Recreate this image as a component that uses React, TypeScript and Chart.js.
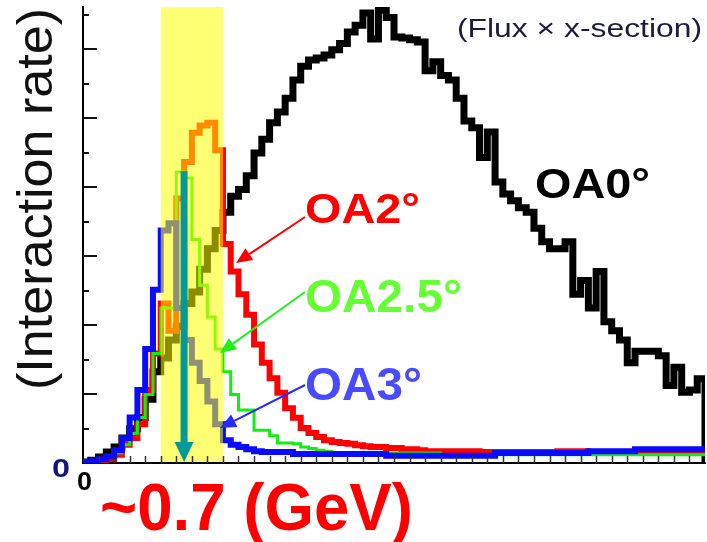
import React, { useEffect, useRef } from "react";
import { Chart, registerables } from "chart.js";

Chart.register(...registerables);

// ---------- data ----------
// Neutrino energy axis (GeV): histogram bins of 0.05 GeV from 0 to 4 GeV
const E_MAX = 4.0;
const BIN_WIDTH = 0.05;
const X_TICK_STEP = 0.1;
// Interaction rate (arbitrary units, peak of OA0 = 100)
const Y_MAX = 100;
const Y_TICK_STEP = 7.565;

const OA0 = [
  0.2, 0.6, 1.3, 2.4, 3.5, 5.5, 7.5, 10, 14, 20,
  23, 27, 30, 35, 37.5, 42.5, 47, 51, 55, 58.5,
  60, 63, 68, 71, 74.6, 77, 80, 84, 87, 88.4,
  88.8, 89.5, 90.6, 92, 94.5, 96, 98.7, 93, 99.3, 97.7,
  93.4, 93.2, 92.8, 92.3, 86, 88, 85, 84, 80, 75,
  73.5, 67, 72.6, 61.6, 59, 57.5, 56, 55, 51.5, 48.5,
  47, 47, 48.5, 37, 40, 34, 42, 31, 29, 27,
  22, 24.5, 24.5, 24.5, 23.5, 17, 21, 15.5, 16, 18.5,
];

const OA2 = [
  0.2, 0.2, 0.4, 0.9, 1.8, 4, 5.5, 8.5, 16, 24,
  35, 29, 58, 66, 72.4, 74, 74.6, 68.6, 48, 42,
  37, 32.5, 26, 22, 18.6, 15.4, 12, 9.9, 7.7, 6.6,
  5.7, 5, 4.6, 4.4, 4.2, 3.9, 3.7, 3.5, 3.5, 3.3,
  3.3, 3, 3, 2.8, 2.6, 2.6, 2.6, 2.6, 2.6, 2.6,
  2.6, 2.4, 2.4, 2.4, 2.4, 2.4, 2.4, 2.4, 2.4, 2.4,
  2.4, 2.6, 2.6, 2.6, 2.6, 2.4, 2.4, 2.4, 2.4, 2.4,
  2.4, 2.4, 2.4, 2.4, 2.4, 2.4, 2.4, 2.4, 2.4, 2.4,
];

const OA25 = [
  0.2, 0.3, 0.6, 1.2, 2.2, 4, 6.5, 10, 15, 24,
  34, 34, 63.8, 62.5, 49, 39, 32, 25, 20, 15,
  11.6, 11.6, 7.2, 7.2, 6, 4.4, 4.4, 4.2, 3.5, 3.2,
  2.8, 2.5, 2.2, 2.2, 2.2, 2.2, 2.2, 2.2, 2.2, 2.2,
  2.2, 2.2, 2.2, 2.2, 2.2, 2.2, 1.8, 1.8, 1.8, 1.8,
  1.8, 1.8, 1.8, 1.8, 1.8, 1.8, 1.8, 1.8, 1.8, 1.8,
  1.8, 1.8, 1.8, 1.8, 1.8, 1.8, 1.8, 1.8, 1.8, 1.8,
  1.8, 1.8, 1.8, 1.8, 1.8, 1.8, 1.8, 1.8, 1.8, 1.8,
];

const OA3 = [
  0.2, 0.4, 0.8, 1.5, 2.8, 5.5, 10, 16, 25, 38,
  51, 52.6, 34, 27, 22, 18, 13.5, 8.5, 5, 4,
  3.5, 3, 2.6, 2.4, 2.4, 2.4, 2.4, 2, 2, 2,
  2, 2, 2, 2, 2, 2, 2, 2, 2, 1.6,
  1.6, 1.6, 1.6, 1.6, 1.6, 1.6, 1.6, 1.6, 1.6, 1.6,
  1.6, 1.6, 1.6, 2.2, 2.2, 2.2, 2.2, 2.2, 2.2, 2.2,
  2.2, 2.2, 2.2, 2.2, 2.2, 2.6, 2.6, 2.6, 2.6, 2.6,
  2.6, 3, 3, 3, 3, 3, 3, 3, 3, 3,
];

// highlighted energy window and the peak marker (GeV)
const BAND = [0.5, 0.9];
const PEAK_E = 0.65;
const PEAK_ARROW_TOP = 64;

const SERIES_LABELS = ["OA0°", "OA2°", "OA2.5°", "OA3°"];
const Y_TITLE = "(Interaction rate)";
const SUBTITLE = "(Flux × x-section)";
const ENERGY_NOTE = "~0.7 (GeV)";

// ---------- helpers ----------
function histPoints(vals: number[], dropToZero: boolean) {
  const pts = vals.map((v, i) => ({ x: +(i * BIN_WIDTH).toFixed(3), y: v }));
  pts.push({ x: E_MAX, y: vals[vals.length - 1] });
  if (dropToZero) pts.push({ x: E_MAX, y: 0 });
  return pts;
}

const FONT = '"Liberation Sans", Arial, Helvetica, sans-serif';

function fitText(
  ctx: CanvasRenderingContext2D,
  s: string,
  x: number,
  y: number,
  font: string,
  color: string,
  width: number
) {
  ctx.save();
  ctx.font = font;
  ctx.fillStyle = color;
  ctx.textBaseline = "alphabetic";
  ctx.textAlign = "left";
  const w = ctx.measureText(s).width;
  ctx.translate(x, y);
  ctx.scale(width / w, 1);
  ctx.fillText(s, 0, 0);
  ctx.restore();
}

function arrow(
  ctx: CanvasRenderingContext2D,
  x0: number,
  y0: number,
  x1: number,
  y1: number,
  color: string,
  lw: number,
  headLen: number,
  headHalf: number
) {
  const ang = Math.atan2(y1 - y0, x1 - x0);
  const bx = x1 - headLen * Math.cos(ang);
  const by = y1 - headLen * Math.sin(ang);
  ctx.save();
  ctx.strokeStyle = color;
  ctx.fillStyle = color;
  ctx.lineWidth = lw;
  ctx.beginPath();
  ctx.moveTo(x0, y0);
  ctx.lineTo(bx, by);
  ctx.stroke();
  ctx.beginPath();
  ctx.moveTo(x1, y1);
  ctx.lineTo(bx + headHalf * Math.sin(ang), by - headHalf * Math.cos(ang));
  ctx.lineTo(bx - headHalf * Math.sin(ang), by + headHalf * Math.cos(ang));
  ctx.closePath();
  ctx.fill();
  ctx.restore();
}

const overlayPlugin = {
  id: "overlay",
  afterDatasetsDraw(chart: any) {
    const { ctx, chartArea: ca } = chart;
    const xs = chart.scales.x;
    const ys = chart.scales.y;
    ctx.save();
    // yellow window
    const bx0 = xs.getPixelForValue(BAND[0]);
    const bx1 = xs.getPixelForValue(BAND[1]);
    ctx.fillStyle = "rgba(255,255,0,0.55)";
    ctx.fillRect(bx0, ca.top, bx1 - bx0, ca.bottom - ca.top - 1);

    // inward tick marks on x axis
    ctx.strokeStyle = "#333";
    ctx.lineWidth = 1.5;
    for (let v = X_TICK_STEP; v < E_MAX - 1e-6; v += X_TICK_STEP) {
      const px = Math.round(xs.getPixelForValue(v)) + 0.5;
      ctx.beginPath();
      ctx.moveTo(px, ca.bottom);
      ctx.lineTo(px, ca.bottom - 7);
      ctx.stroke();
    }
    // inward tick marks on y axis
    ctx.strokeStyle = "#111";
    ctx.lineWidth = 2;
    let k = 1;
    for (let v = Y_TICK_STEP; v < Y_MAX; v += Y_TICK_STEP, k++) {
      const py = Math.round(ys.getPixelForValue(v));
      ctx.beginPath();
      ctx.moveTo(ca.left, py);
      ctx.lineTo(ca.left + (k % 2 === 0 ? 14 : 6), py);
      ctx.stroke();
    }

    // teal peak arrow
    const ax = xs.getPixelForValue(PEAK_E);
    const aTop = ys.getPixelForValue(PEAK_ARROW_TOP);
    const aBot = ca.bottom - 1;
    ctx.fillStyle = "#009a9a";
    ctx.fillRect(ax - 3.5, aTop, 7, aBot - 18 - aTop);
    ctx.beginPath();
    ctx.moveTo(ax - 9.5, aBot - 20);
    ctx.lineTo(ax + 9.5, aBot - 20);
    ctx.lineTo(ax, aBot);
    ctx.closePath();
    ctx.fill();
    ctx.restore();
  },
  afterDraw(chart: any) {
    const { ctx } = chart;
    // y-axis title, rotated
    ctx.save();
    ctx.translate(52, 390);
    ctx.rotate(-Math.PI / 2);
    fitText(ctx, Y_TITLE, 0, 0, `50px ${FONT}`, "#111", 382);
    ctx.restore();

    fitText(ctx, SUBTITLE, 457, 37, `26px ${FONT}`, "#1c1c3a", 245);

    fitText(ctx, SERIES_LABELS[0], 535, 198, `bold 43px ${FONT}`, "#000", 115);
    fitText(ctx, SERIES_LABELS[1], 305, 223, `bold 43px ${FONT}`, "#ff0000", 115);
    fitText(ctx, SERIES_LABELS[2], 305, 312, `bold 46px ${FONT}`, "#66ff33", 157);
    fitText(ctx, SERIES_LABELS[3], 305, 400, `bold 46px ${FONT}`, "#4a4aff", 117);

    arrow(ctx, 305, 217, 236, 263, "#ff0000", 2, 16, 7);
    arrow(ctx, 305, 292, 220, 353, "#22ee22", 2, 16, 7);
    arrow(ctx, 305, 385, 220, 428, "#2a2aff", 2, 16, 7);

    fitText(ctx, "0", 52, 477, `bold 26px ${FONT}`, "#141480", 18);
    fitText(ctx, "0", 77, 490, `bold 25px ${FONT}`, "#000", 15);

    fitText(ctx, ENERGY_NOTE, 100, 530, `bold 66px ${FONT}`, "#ff0000", 313);
  },
};

export default function App() {
  const ref = useRef<HTMLCanvasElement>(null);

  useEffect(() => {
    if (!ref.current) return;
    const mk = (label: string, vals: number[], color: string, width: number, order: number, drop: boolean) => ({
      label,
      data: histPoints(vals, drop),
      borderColor: color,
      backgroundColor: color,
      borderWidth: width,
      pointRadius: 0,
      stepped: true,
      tension: 0,
      fill: false,
      borderJoinStyle: "miter" as const,
      borderCapStyle: "butt" as const,
      order,
    });

    const chart = new Chart(ref.current, {
      type: "line",
      data: {
        datasets: [
          mk(SERIES_LABELS[0], OA0, "#000000", 7, 4, true),
          mk(SERIES_LABELS[1], OA2, "#ff0000", 6, 3, false),
          mk(SERIES_LABELS[2], OA25, "#11ee11", 3, 2, false),
          mk(SERIES_LABELS[3], OA3, "#0a0aff", 6, 1, false),
        ],
      },
      options: {
        responsive: false,
        animation: false,
        devicePixelRatio: 1,
        layout: { padding: { left: 83, top: 7, right: 2, bottom: 79 } },
        plugins: {
          legend: { display: false },
          tooltip: { enabled: false },
          title: { display: false },
        },
        scales: {
          x: {
            type: "linear",
            min: 0,
            max: E_MAX,
            grid: { display: false, drawTicks: false },
            ticks: { display: false },
            border: { display: true, color: "#000", width: 2 },
            afterFit: (s: any) => {
              s.height = 0;
            },
          },
          y: {
            type: "linear",
            min: 0,
            max: Y_MAX,
            grid: { display: false, drawTicks: false },
            ticks: { display: false },
            border: { display: true, color: "#000", width: 2 },
            afterFit: (s: any) => {
              s.width = 0;
            },
          },
        },
      },
      plugins: [overlayPlugin],
    });
    return () => chart.destroy();
  }, []);

  return (
    <div style={{ position: "absolute", left: 0, top: 0, width: 707, height: 542, background: "#fff" }}>
      <canvas ref={ref} width={707} height={542} style={{ display: "block" }} />
    </div>
  );
}
